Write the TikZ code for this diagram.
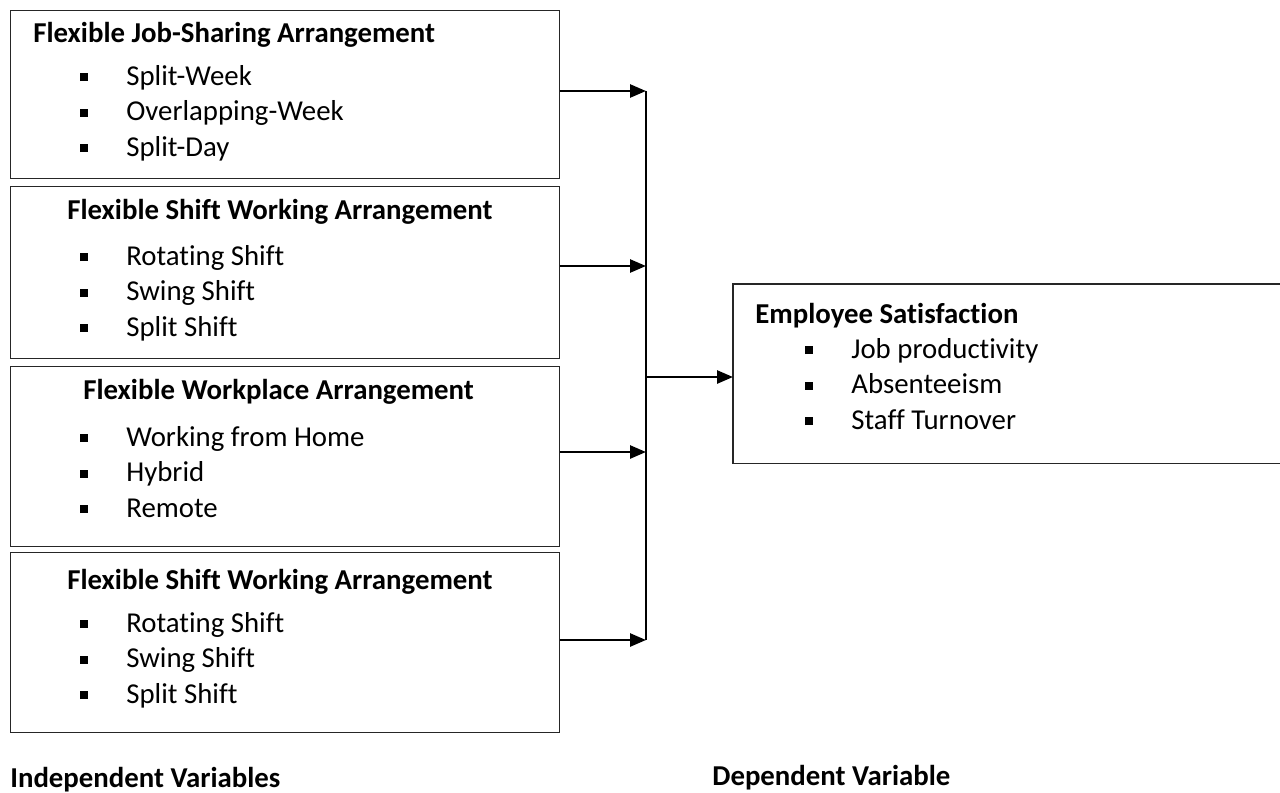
\documentclass[tikz,border=0pt]{standalone}
\usepackage{fontspec}
\setmainfont{Carlito}[Ligatures=NoCommon]
\usetikzlibrary{arrows.meta, positioning, calc}

\newcommand{\sqb}{\makebox[0.92cm][l]{\rule[0.08cm]{0.15cm}{0.16cm}}}

\begin{document}
\begin{tikzpicture}[>={Triangle[length=0.32cm,width=0.26cm]}, x=0.02cm, y=-0.02cm,
  every node/.style={font=\fontsize{16.4}{19.8}\selectfont, inner sep=0pt, anchor=base west},
  box/.style={draw=black!85, line width=0.6pt, anchor=north west, minimum width=10.98cm},
  hd/.style={font=\fontsize{16.4}{19.8}\selectfont\bfseries}
]
  \useasboundingbox (0,0) rectangle (1280,792);

  % the four independent variable boxes
  \node[box, minimum height=3.36cm] (jsa) at (10,10) {};
  \node[box, minimum height=3.44cm] (swa) at (10,186) {};
  \node[box, minimum height=3.6cm] (wpa) at (10,366) {};
  \node[box, minimum height=3.6cm] (swb) at (10,552) {};

  \node[hd] (jsa-h) at (33,42) {Flexible Job-Sharing Arrangement};
  \foreach \t [count=\i] in {Split-Week, Overlapping-Week, Split-Day}
    \node (jsa-\i) at (80,{85+35.5*(\i-1)}) {\sqb\t};

  \node[hd] (swa-h) at (67,219) {Flexible Shift Working Arrangement};
  \foreach \t [count=\i] in {Rotating Shift, Swing Shift, Split Shift}
    \node (swa-\i) at (80,{265+35.5*(\i-1)}) {\sqb\t};

  \node[hd] (wpa-h) at (83,399) {Flexible Workplace Arrangement};
  \foreach \t [count=\i] in {Working from Home, Hybrid, Remote}
    \node (wpa-\i) at (80,{446+35.5*(\i-1)}) {\sqb\t};

  \node[hd] (swb-h) at (67,589) {Flexible Shift Working Arrangement};
  \foreach \t [count=\i] in {Rotating Shift, Swing Shift, Split Shift}
    \node (swb-\i) at (80,{632+35.5*(\i-1)}) {\sqb\t};

  % dependent variable box, open on the right
  \node[anchor=north west, minimum width=10.94cm, minimum height=3.58cm] (es) at (733,284) {};
  \draw[draw=black!85, line width=0.6pt] (es.north east) -- (es.north west) -- (es.south west) -- (es.south east);

  \node[hd] (es-h) at (755,323) {Employee Satisfaction};
  \foreach \t [count=\i] in {Job productivity, Absenteeism, Staff Turnover}
    \node (es-\i) at (805,{358+35.5*(\i-1)}) {\sqb\t};

  % arrows into the bus
  \coordinate (b1) at (646,91);
  \coordinate (b2) at (646,266);
  \coordinate (b3) at (646,452);
  \coordinate (b4) at (646,640);
  \coordinate (bm) at (646,377);

  \draw[->, line width=1.5pt] (b1 -| jsa.east) -- (b1);
  \draw[->, line width=1.5pt] (b2 -| swa.east) -- (b2);
  \draw[->, line width=1.5pt] (b3 -| wpa.east) -- (b3);
  \draw[->, line width=1.5pt] (b4 -| swb.east) -- (b4);
  \draw[line width=0.6pt] (b1) -- (b4);
  \draw[->, line width=1.5pt] (bm) -- (bm -| es.west);

  \node[hd] (iv) at (10,787) {Independent Variables};
  \node[hd] (dv) at (712,785) {Dependent Variable};
\end{tikzpicture}
\end{document}
